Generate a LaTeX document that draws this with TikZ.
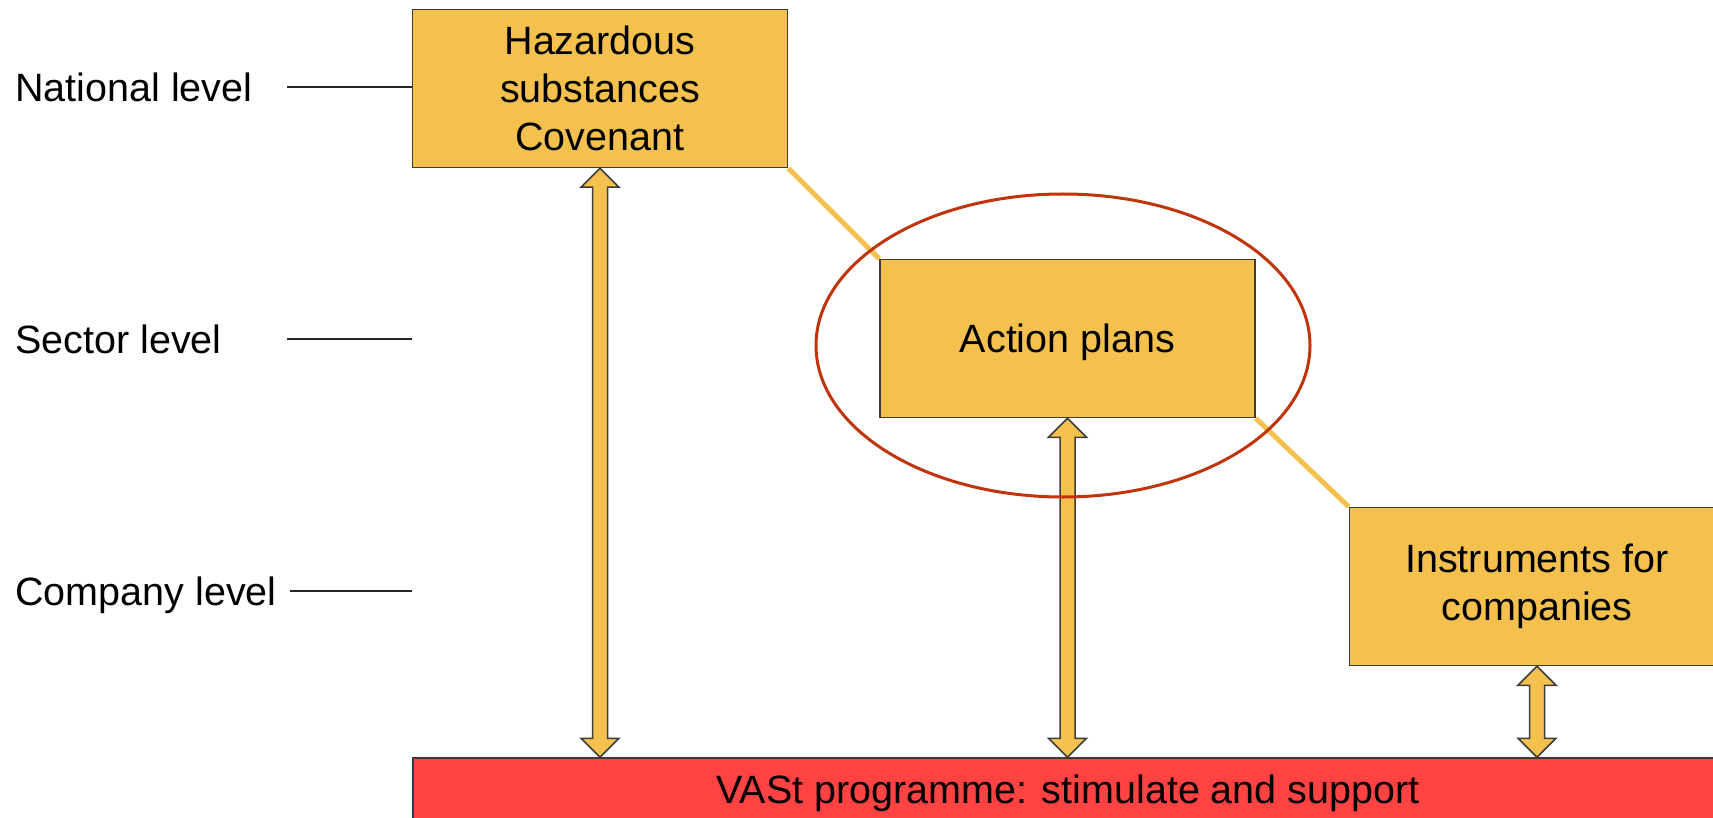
\documentclass[tikz,border=0pt]{standalone}
\usepackage{fontspec}
\setmainfont{Liberation Sans}
\usetikzlibrary{calc,shapes.geometric,backgrounds}

\definecolor{boxyellow}{RGB}{245,193,78}
\definecolor{barred}{RGB}{255,66,66}
\definecolor{ringred}{RGB}{192,52,12}
\definecolor{edgegray}{RGB}{60,60,60}

\tikzset{
	every node/.style={font=\fontsize{19.75pt}{24pt}\selectfont, inner sep=0pt},
	levelbox/.style={draw=edgegray, fill=boxyellow, line width=0.75pt, minimum width=187.5pt, minimum height=79pt, align=center},
	vastbar/.style={draw=edgegray, fill=barred, line width=0.75pt, minimum width=655pt, minimum height=31pt, text depth=0pt},
	levelline/.style={draw=black!85, line width=0.75pt},
	link/.style={draw=boxyellow, line width=2.5pt},
	twoway/.style={draw=edgegray, fill=boxyellow, line width=0.75pt, line join=miter},
	ring/.style={ellipse, draw=ringred, line width=1.5pt, minimum width=247pt, minimum height=151.5pt}
}

% double headed block arrow from #1 (top) to #2 (bottom)
\newcommand{\twoway}[2]{%
	\draw[twoway] (#1) -- ++(19,19) -- ++(-11.5,0) -- ($(#2)+(7.5,-19)$) -- ++(11.5,0) -- (#2)
		-- ++(-19,-19) -- ++(11.5,0) -- ($(#1)+(-7.5,19)$) -- ++(-11.5,0) -- cycle;}

\begin{document}
\begin{tikzpicture}[x=0.5pt, y=-0.5pt]
	\useasboundingbox (0,0) rectangle (1713,818);
	\clip (0,0) rectangle (1713,818);

	\node (national) at (15,101.5) [anchor=base west] {National level};
	\node (sector) at (15,353.5) [anchor=base west] {Sector level};
	\node (company) at (15,605.5) [anchor=base west] {Company level};

	\node (haz) at (600,88.5) [levelbox] {Hazardous\\substances\\Covenant};
	\node (act) at (1067.5,338.5) [levelbox, text depth=0pt] {Action plans};
	\node (ins) at (1537,586.5) [levelbox] {Instruments for\\companies};
	\node (vast) at (1068,789) [vastbar] {VASt programme: stimulate and support};

	\coordinate (natL) at (287,87);
	\coordinate (secL) at (287,339);
	\coordinate (comL) at (290,591);
	\path 	[levelline]	(natL)	edge	(natL -| haz.west)
			(secL)	edge	(secL -| haz.west)
			(comL)	edge	(comL -| haz.west);

	\begin{scope}[on background layer]
		\path	[link]	(haz.south east)	edge	(act.north west)
				(act.south east)	edge	(ins.north west);
	\end{scope}

	\coordinate (hazB) at (haz.south |- vast.north);
	\coordinate (actB) at (act.south |- vast.north);
	\coordinate (insB) at (ins.south |- vast.north);
	\twoway{haz.south}{hazB}
	\twoway{act.south}{actB}
	\twoway{ins.south}{insB}

	\node (focus) at (1063,345.5) [ring] {};
\end{tikzpicture}
\end{document}
